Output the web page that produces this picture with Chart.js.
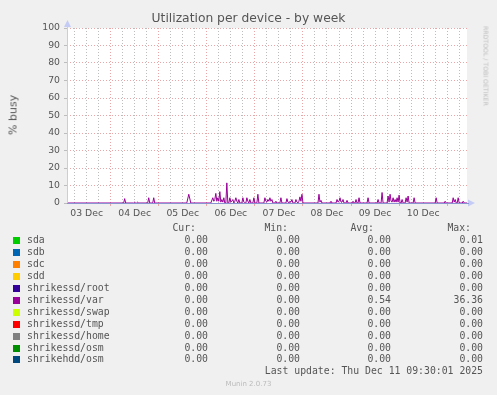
<!DOCTYPE html>
<html>
<head>
<meta charset="utf-8">
<script src="https://cdn.jsdelivr.net/npm/chart.js@4.4.0/dist/chart.umd.min.js"></script>
<style>
  body { margin: 0; background: #f0f0f0; width: 497px; height: 395px; position: relative; overflow: hidden; font-family: "DejaVu Sans", sans-serif; }
  #chart { position: absolute; left: 0; top: 0; }
  .title { position: absolute; top: 11px; left: 0; width: 497px; text-align: center; font-size: 12.3px; color: #555; }
  .ylab { position: absolute; left: 13px; top: 115px; transform: translate(-50%, -50%) rotate(-90deg); font-size: 11px; color: #555; white-space: nowrap; }
  .rrd { position: absolute; left: 486px; top: 66px; transform: translate(-50%, -50%) rotate(90deg); font-size: 6.2px; color: #bdbdbd; white-space: nowrap; }
  .mono { position: absolute; font-family: "DejaVu Sans Mono", monospace; font-size: 9.8px; color: #555; white-space: pre; line-height: 12px; }
  .sw { position: absolute; width: 7px; height: 7px; }
  .munin { position: absolute; left: 0; width: 497px; top: 380px; text-align: center; font-size: 7px; color: #bbb; }
</style>
</head>
<body>
<canvas id="chart" width="497" height="225"></canvas>
<div class="title">Utilization per device - by week</div>
<div class="ylab">% busy</div>
<div class="rrd">RRDTOOL / TOBI OETIKER</div>
<div id="legend"></div>
<div class="munin">Munin 2.0.73</div>
<script>
// --- DATA ---
// hours since 03 Dec 00:00
const hours = [2.2,
  30.5, 31, 31.5, 35.5, 36, 36.5, 37, 37.5, 38, 42.5, 43, 43.5, 45, 45.5, 46, 62, 63, 64,
  74, 75, 75.5, 76, 76.5, 77, 77.5, 78, 78.5, 79, 79.5, 80, 80.5, 81, 81.5, 82, 82.5, 83, 83.5, 84, 84.5, 85, 85.5,
  86, 86.5, 87, 87.5, 88, 88.5, 89.5, 90, 90.5, 91, 91.5, 92, 92.5, 93, 93.5, 94, 95, 95.5, 96, 97, 97.5, 98,
  100.5, 101, 101.5, 102, 102.5, 103, 103.5, 104, 104.5, 105, 106, 106.5, 107, 108.5, 109, 109.5,
  111.5, 112, 112.5, 113, 113.5, 114, 114.5, 115, 116, 116.5, 117, 117.5, 118, 118.5, 119, 119.5, 120,
  127.5, 128, 128.5, 129, 129.5, 133.5, 134, 134.5, 136.5, 137, 137.5, 138, 138.5, 139, 139.5, 140, 140.5,
  141.5, 142, 142.5, 144.5, 145, 145.5, 146, 146.5, 147, 147.5, 148, 148.5, 152, 152.5, 153,
  157, 157.5, 158, 159, 159.5, 160, 162, 162.5, 163, 163.5, 164, 164.5, 165, 165.5, 166, 166.5, 167, 167.5, 168, 168.5, 169, 169.5, 170,
  171, 171.5, 172, 172.5, 173, 175, 175.5, 176, 186, 186.5, 187, 190.5, 191, 191.5,
  194.5, 195, 195.5, 196, 196.5, 197, 197.5, 198, 199.5, 200, 200.5, 201.9];
const varBusy = [0,
  0, 2.5, 0, 0, 0.5, 0, 0, 0.5, 0, 0, 3, 0, 0, 3, 0, 0, 5, 0,
  0, 3, 1, 2, 5.5, 1, 3, 1, 6.5, 0.5, 2, 0.5, 3, 0, 0, 11.5, 0, 0, 3, 0.5, 1, 2, 0,
  1, 3, 1, 0, 2, 0, 0, 3, 0.5, 0, 0, 3, 1, 0, 2, 0, 0, 3, 0, 0, 5, 0,
  0, 3, 1, 0.5, 2, 1, 3, 1, 2, 0, 0, 1, 0, 0, 3, 0,
  0, 2.5, 0.5, 0, 1, 0.5, 2, 0, 0, 2, 0.5, 0, 1, 3.5, 1, 5, 0,
  0, 5, 0.5, 1.5, 0, 0, 1, 0, 0, 2, 0.5, 1, 3, 0.5, 0.5, 2, 0,
  0, 1.5, 0, 0, 1, 0, 0, 2, 0, 0, 3, 0, 0, 3, 0,
  0, 2, 0, 0, 6, 0, 0, 4, 0.5, 5, 1, 0.5, 3, 0.5, 2, 0.5, 3, 0.5, 4.5, 0, 0, 2, 0,
  0, 3, 0.5, 4, 0, 0, 3, 0, 0, 3, 0, 0, 1, 0,
  0, 3, 0.5, 2, 0, 0, 3, 0, 0, 1, 0, 0];
const dayLabels = ['03 Dec', '04 Dec', '05 Dec', '06 Dec', '07 Dec', '08 Dec', '09 Dec', '10 Dec'];
const yTicks = [0, 10, 20, 30, 40, 50, 60, 70, 80, 90, 100];

// legend table
const seriesNames = ['sda', 'sdb', 'sdc', 'sdd', 'shrikessd/root', 'shrikessd/var', 'shrikessd/swap', 'shrikessd/tmp', 'shrikessd/home', 'shrikessd/osm', 'shrikehdd/osm'];
const seriesColors = ['#00cc00', '#0066b3', '#ff8000', '#ffcc00', '#330099', '#990099', '#ccff00', '#ff0000', '#808080', '#008f00', '#00487d'];
const curVals = ['0.00', '0.00', '0.00', '0.00', '0.00', '0.00', '0.00', '0.00', '0.00', '0.00', '0.00'];
const minVals = ['0.00', '0.00', '0.00', '0.00', '0.00', '0.00', '0.00', '0.00', '0.00', '0.00', '0.00'];
const avgVals = ['0.00', '0.00', '0.00', '0.00', '0.00', '0.54', '0.00', '0.00', '0.00', '0.00', '0.00'];
const maxVals = ['0.01', '0.00', '0.00', '0.00', '0.00', '36.36', '0.00', '0.00', '0.00', '0.00', '0.00'];
const lastUpdate = 'Last update: Thu Dec 11 09:30:01 2025';

// --- LEGEND ---
const legendEl = document.getElementById('legend');
function txt(s, top, left, right) {
  const d = document.createElement('div');
  d.className = 'mono';
  d.textContent = s;
  d.style.top = top + 'px';
  if (left != null) d.style.left = left + 'px';
  else d.style.right = (497 - right) + 'px';
  legendEl.appendChild(d);
}
const headTop = 222, rowH = 11.95;
txt('Cur:', headTop, null, 196);
txt('Min:', headTop, null, 288);
txt('Avg:', headTop, null, 374);
txt('Max:', headTop, null, 471);
seriesNames.forEach((name, i) => {
  const top = headTop + rowH * (i + 1);
  const sw = document.createElement('div');
  sw.className = 'sw';
  sw.style.background = seriesColors[i];
  sw.style.left = '13px';
  sw.style.top = (top + 3) + 'px';
  legendEl.appendChild(sw);
  txt(name, top, 27);
  txt(curVals[i], top, null, 208);
  txt(minVals[i], top, null, 300);
  txt(avgVals[i], top, null, 391);
  txt(maxVals[i], top, null, 483);
});
txt(lastUpdate, headTop + rowH * 12, null, 483);

// --- CHART ---
const majorGrid = '#eaa6a6';
const minorGrid = '#bdbdbd';
const axisColor = '#8a94d0';
const arrowColor = '#c4ccf6';

const munin = {
  id: 'munin',
  beforeDraw(chart) {
    const a = chart.chartArea, c = chart.ctx;
    c.save();
    c.fillStyle = '#ffffff';
    c.fillRect(a.left, a.top, a.right - a.left, a.bottom - a.top);
    c.restore();
  },
  afterDraw(chart) {
    const a = chart.chartArea, c = chart.ctx;
    c.save();
    c.lineWidth = 1;
    c.strokeStyle = arrowColor;
    c.beginPath(); c.moveTo(a.left + 0.5, a.bottom); c.lineTo(a.left + 0.5, a.top - 6); c.stroke();
    c.fillStyle = arrowColor;
    c.beginPath(); c.moveTo(a.left - 3, a.top - 1); c.lineTo(a.left + 4, a.top - 1); c.lineTo(a.left + 0.5, a.top - 8); c.closePath(); c.fill();
    c.beginPath(); c.moveTo(a.right + 1, a.bottom - 3.5); c.lineTo(a.right + 1, a.bottom + 3.5); c.lineTo(a.right + 8, a.bottom); c.closePath(); c.fill();
    c.strokeStyle = axisColor;
    c.beginPath(); c.moveTo(a.left, a.bottom + 0.5); c.lineTo(a.right + 2, a.bottom + 0.5); c.stroke();
    c.restore();
  }
};

new Chart(document.getElementById('chart'), {
  type: 'line',
  data: {
    datasets: [{
      label: 'shrikessd/var',
      data: hours.map((h, i) => ({ x: h, y: varBusy[i] })),
      borderColor: '#990099',
      borderWidth: 1,
      pointRadius: 0,
      tension: 0,
      fill: false
    }]
  },
  options: {
    responsive: false,
    devicePixelRatio: 1,
    animation: false,
    layout: { padding: { left: 0, right: 30, top: 28, bottom: 0 } },
    plugins: { legend: { display: false }, tooltip: { enabled: false } },
    scales: {
      x: {
        type: 'linear',
        min: 2.2,
        max: 201.9,
        afterFit: s => { s.height = 22; },
        afterBuildTicks: s => {
          const t = [];
          for (let h = 6; h < 201; h += 6) t.push({ value: h });
          s.ticks = t;
        },
        ticks: {
          autoSkip: false,
          maxRotation: 0,
          padding: 2,
          color: '#555',
          font: { family: 'DejaVu Sans', size: 9.3 },
          callback: v => (v % 24 === 12 ? dayLabels[(v - 12) / 24] : '')
        },
        grid: {
          color: c => (c.tick && c.tick.value % 24 === 0 ? majorGrid : minorGrid),
          tickColor: c => (c.tick && c.tick.value % 24 === 0 ? majorGrid : 'rgba(0,0,0,0)'),
          tickLength: 3,
          lineWidth: 1
        },
        border: { display: false, dash: [1, 2] }
      },
      y: {
        min: 0,
        max: 100,
        afterFit: s => { s.width = 67; },
        ticks: {
          stepSize: 5,
          padding: 4,
          color: '#555',
          font: { family: 'DejaVu Sans', size: 9.3 },
          callback: v => (yTicks.includes(v) ? String(v) : '')
        },
        grid: {
          color: c => (c.tick && c.tick.value % 10 === 0 ? majorGrid : minorGrid),
          tickColor: minorGrid,
          tickLength: 3,
          lineWidth: 1
        },
        border: { display: false, dash: [1, 2] }
      }
    }
  },
  plugins: [munin]
});
</script>
</body>
</html>
